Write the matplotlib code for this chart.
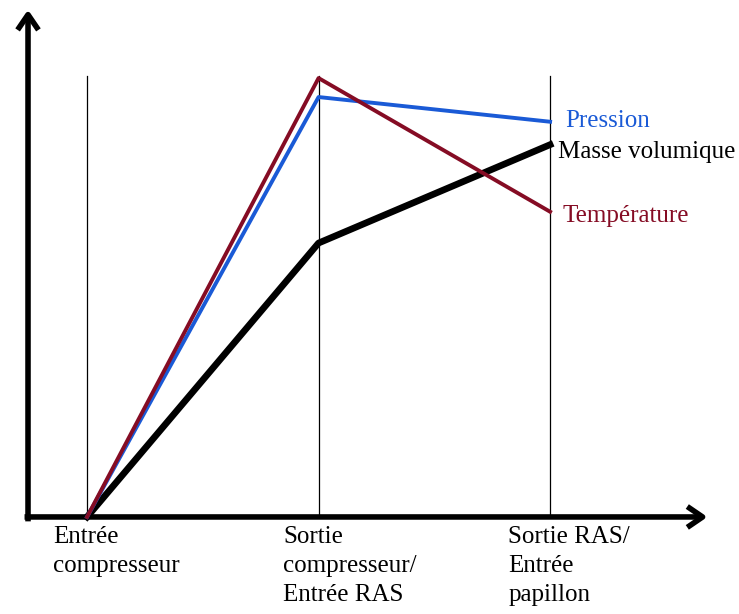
import numpy as np
import matplotlib
matplotlib.use('Agg')
import matplotlib.pyplot as plt

# Stages along the circuit
stages = ['Entrée\ncompresseur', 'Sortie\ncompresseur/\nEntrée RAS', 'Sortie RAS/\nEntrée\npapillon']
# Relative values (arbitrary units, 100 = top of the vertical guides)
pression = [0, 95.2, 89.6]
temperature = [0, 99.5, 69.2]
masse_vol = [0, 62.1, 84.4]

plt.rcParams['font.family'] = ['Liberation Serif', 'DejaVu Serif']

fig = plt.figure(figsize=(7.39, 6.14), dpi=100)
ax = fig.add_axes([0, 0, 1, 1])
ax.set_xlim(-0.376, 2.816)
ax.set_ylim(-22.0, 117.2)
ax.axis('off')

x = np.arange(len(stages))

# Vertical guides
for xi in x:
    ax.plot([xi, xi], [0, 100], color='black', lw=0.9, zorder=1)

# Axes with arrows
arrow = dict(arrowstyle='->,head_length=1.1,head_width=0.75', lw=4.0, color='black',
             shrinkA=0, shrinkB=0, capstyle='butt')
ax.annotate('', xy=(2.68, 0), xytext=(-0.27, 0), arrowprops=arrow, zorder=2)
ax.annotate('', xy=(-0.255, 115.0), xytext=(-0.255, -1.0), arrowprops=arrow, zorder=2)

blue = '#1a5ad6'
red = '#850c24'
ax.plot(x, masse_vol, color='black', lw=4.8, zorder=3)
ax.plot(x, pression, color=blue, lw=2.8, zorder=4)
ax.plot(x, temperature, color=red, lw=2.8, zorder=5)

fs = 18
ax.text(2.065, pression[-1] + 0.2, 'Pression', color=blue, fontsize=fs, va='center')
ax.text(2.035, masse_vol[-1] - 1.6, 'Masse volumique', color='black', fontsize=fs, va='center')
ax.text(2.055, temperature[-1] - 1.0, 'Température', color=red, fontsize=fs, va='center')

offsets = [-0.147, -0.153, -0.181]
for xi, lab, off in zip(x, stages, offsets):
    ax.text(xi + off, -2.0, lab, fontsize=fs, va='top', ha='left', linespacing=1.42)

fig.savefig('out.png', dpi=100)
